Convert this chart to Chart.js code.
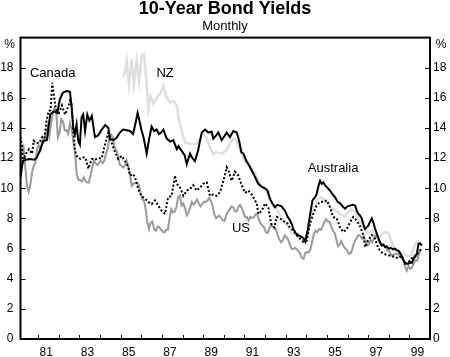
<!DOCTYPE html>
<html>
<head>
<meta charset="utf-8">
<script src="https://cdn.jsdelivr.net/npm/chart.js@4.4.1/dist/chart.umd.min.js"></script>
<style>
  html, body { margin: 0; padding: 0; background: #fff; }
  #wrap { width: 450px; height: 357px; }
</style>
</head>
<body>
<div id="wrap"><canvas id="c" width="450" height="357"></canvas></div>
<script>
// ---------------- DATA ----------------
const ausDates = [1980.14,1980.25,1980.4,1980.6,1980.8,1980.92,1981.08,1981.25,1981.42,1981.58,1981.75,1981.92,1982.05,1982.2,1982.38,1982.54,1982.62,1982.7,1982.78,1982.86,1982.94,1983.02,1983.1,1983.18,1983.27,1983.38,1983.48,1983.6,1983.75,1983.9,1984.08,1984.25,1984.4,1984.48,1984.64,1984.8,1984.96,1985.12,1985.29,1985.45,1985.6,1985.7,1985.82,1985.92,1986.0,1986.12,1986.26,1986.38,1986.5,1986.62,1986.74,1986.85,1986.96,1987.07,1987.23,1987.4,1987.55,1987.72,1987.8,1987.95,1988.1,1988.2,1988.36,1988.48,1988.6,1988.75,1988.93,1989.09,1989.25,1989.41,1989.49,1989.62,1989.73,1989.9,1990.05,1990.14,1990.3,1990.46,1990.63,1990.75,1990.85,1990.95,1991.1,1991.2,1991.35,1991.5,1991.67,1991.84,1992.0,1992.12,1992.24,1992.4,1992.48,1992.6,1992.8,1992.97,1993.1,1993.2,1993.3,1993.37,1993.5,1993.62,1993.75,1993.85,1993.95,1994.08,1994.18,1994.3,1994.42,1994.5,1994.6,1994.67,1994.75,1994.83,1994.91,1995.05,1995.15,1995.28,1995.4,1995.52,1995.64,1995.76,1995.88,1996.0,1996.12,1996.25,1996.37,1996.45,1996.53,1996.6,1996.69,1996.77,1996.85,1996.92,1997.0,1997.1,1997.18,1997.26,1997.34,1997.42,1997.5,1997.58,1997.66,1997.74,1997.82,1997.9,1998.0,1998.1,1998.2,1998.3,1998.38,1998.47,1998.55,1998.63,1998.71,1998.79,1998.87,1998.95,1999.04,1999.12,1999.2,1999.28,1999.36,1999.44,1999.52,1999.6];
const ausValues = [10.7,11.8,11.9,11.95,11.9,12.0,12.5,13.15,13.2,14.9,15.1,15.0,15.9,16.35,16.45,16.4,15.35,14.0,13.6,14.25,13.15,12.9,14.7,14.9,13.8,14.9,14.5,14.8,13.4,13.5,13.9,14.2,14.0,13.3,13.2,13.35,13.7,13.9,13.85,13.8,13.6,14.2,15.0,14.4,13.9,13.3,12.3,13.3,14.1,13.8,13.9,13.6,13.7,13.9,13.3,13.1,13.2,12.6,12.8,12.5,12.2,11.6,12.3,12.0,11.8,12.5,13.7,13.9,13.7,13.75,13.3,13.5,13.7,13.2,13.5,13.7,13.4,13.8,13.7,13.1,12.4,12.3,11.8,11.6,11.2,10.8,10.3,10.1,10.0,9.85,9.3,8.9,8.75,8.9,8.8,8.5,8.1,7.9,7.6,7.3,7.0,6.9,6.8,6.7,6.45,7.3,8.2,9.2,9.4,9.6,10.2,10.5,10.3,10.4,10.2,10.0,9.85,9.6,9.4,9.1,9.0,8.8,8.65,8.8,8.85,8.9,8.85,8.5,8.3,8.2,8.0,7.6,7.3,7.4,7.5,7.8,8.0,7.7,7.3,7.0,6.7,6.4,6.2,6.25,6.1,6.15,6.0,6.05,5.95,6.0,5.9,5.85,5.7,5.5,5.2,5.05,5.0,5.0,5.1,5.05,5.3,5.55,5.6,6.3,6.35,6.2];

const canDates = [1980.14,1980.2,1980.27,1980.4,1980.55,1980.7,1980.78,1980.9,1981.05,1981.2,1981.3,1981.4,1981.5,1981.6,1981.68,1981.76,1981.85,1982.0,1982.15,1982.3,1982.45,1982.54,1982.62,1982.7,1982.78,1982.9,1983.05,1983.2,1983.3,1983.43,1983.6,1983.75,1983.9,1984.08,1984.2,1984.3,1984.4,1984.5,1984.56,1984.72,1984.88,1985.05,1985.12,1985.3,1985.37,1985.45,1985.6,1985.7,1985.85,1986.0,1986.18,1986.34,1986.5,1986.66,1986.82,1986.99,1987.15,1987.3,1987.47,1987.63,1987.72,1987.88,1988.04,1988.2,1988.36,1988.52,1988.68,1988.85,1989.0,1989.17,1989.33,1989.49,1989.65,1989.82,1989.98,1990.14,1990.22,1990.38,1990.54,1990.7,1990.87,1991.03,1991.19,1991.35,1991.51,1991.6,1991.67,1991.84,1992.0,1992.16,1992.3,1992.45,1992.57,1992.73,1992.9,1993.05,1993.2,1993.37,1993.53,1993.7,1993.86,1994.02,1994.18,1994.34,1994.5,1994.67,1994.83,1995.0,1995.15,1995.3,1995.48,1995.64,1995.8,1995.96,1996.12,1996.28,1996.45,1996.6,1996.77,1996.85,1997.0,1997.18,1997.34,1997.5,1997.66,1997.85,1998.0,1998.15,1998.3,1998.47,1998.63,1998.79,1998.95,1999.12,1999.28,1999.44,1999.6];
const canValues = [13.4,12.9,11.8,12.3,12.6,12.3,13.15,13.0,13.0,13.4,13.3,14.5,15.1,15.2,17.0,16.2,15.25,15.0,15.5,14.9,15.4,15.8,15.6,14.0,12.5,12.05,11.95,12.05,12.0,11.3,11.95,11.9,12.0,12.0,12.7,13.2,13.7,13.2,13.05,12.4,11.95,12.15,12.0,11.6,11.4,10.85,10.95,10.7,9.95,9.5,9.3,9.1,8.95,9.2,8.85,8.5,8.3,9.4,9.5,10.85,10.3,10.05,9.5,9.85,9.95,10.2,9.85,10.05,10.3,10.4,9.5,9.6,9.5,9.75,10.5,11.4,11.2,10.5,11.1,10.85,10.2,9.7,9.85,9.6,9.2,9.0,8.3,8.5,9.0,8.7,7.65,7.4,8.1,8.0,7.8,7.75,7.4,7.2,6.9,6.65,6.45,6.5,7.65,8.3,8.85,9.1,9.1,9.2,8.75,8.1,8.0,7.4,7.1,7.3,7.75,8.1,7.85,7.5,6.9,6.1,6.55,6.9,6.65,6.0,5.75,5.6,5.55,5.5,5.45,5.35,5.55,5.0,5.1,5.35,5.45,5.75,6.0];

const nzDates = [1985.13,1985.2,1985.29,1985.4,1985.53,1985.64,1985.77,1985.89,1986.02,1986.13,1986.26,1986.34,1986.45,1986.58,1986.74,1986.9,1987.07,1987.23,1987.39,1987.55,1987.72,1987.8,1987.96,1988.12,1988.36,1988.68,1988.85,1989.0,1989.17,1989.33,1989.49,1989.65,1989.9,1990.1,1990.3,1990.46,1990.6,1990.79,1990.95,1991.1,1991.43,1991.76,1992.08,1992.3,1992.5,1992.7,1992.9,1993.1,1993.3,1993.5,1993.7,1993.9,1994.05,1994.18,1994.3,1994.5,1994.67,1994.85,1995.0,1995.2,1995.45,1995.65,1995.85,1996.0,1996.2,1996.37,1996.5,1996.7,1996.85,1997.0,1997.2,1997.35,1997.5,1997.7,1997.85,1998.0,1998.1,1998.3,1998.5,1998.7,1998.9,1999.1,1999.3,1999.5];
const nzValues = [17.4,17.65,18.45,16.9,18.55,16.9,18.45,17.1,18.8,18.9,16.9,15.25,16.1,15.6,16.0,16.25,16.8,16.0,15.7,15.8,15.5,14.7,13.8,13.05,12.95,12.95,13.35,13.6,13.35,12.7,12.25,12.4,12.3,12.5,12.95,13.3,13.2,12.5,12.0,11.6,11.2,10.3,9.75,9.0,8.8,8.3,7.9,7.5,7.0,6.9,6.7,6.65,7.0,8.1,8.3,9.2,9.4,9.3,9.0,8.7,8.5,8.3,8.1,8.4,8.6,8.4,8.0,7.6,7.2,7.0,7.2,6.9,6.7,7.0,7.1,7.0,6.6,5.9,5.8,5.7,5.5,5.6,6.35,6.45];

// US: monthly, first observation January 1980
const usStart = 1980.12;
const usValues = [
 10.80,12.41,12.75,11.47,10.18,9.78,10.25,11.10,11.51,11.75,12.68,12.84,
 12.57,13.19,13.12,13.68,14.10,13.47,14.28,14.94,15.32,15.15,13.39,13.72,
 14.59,14.43,13.86,13.87,13.62,14.30,13.95,13.06,12.34,10.91,10.55,10.54,
 10.46,10.72,10.51,10.40,10.38,10.85,11.38,11.85,11.65,11.54,11.69,11.83,
 11.67,11.84,12.32,12.63,13.41,13.56,13.36,12.72,12.52,12.16,11.57,11.50,
 11.38,11.51,11.86,11.43,10.85,10.16,10.31,10.33,10.37,10.24,9.78,9.26,
 9.19,8.70,7.78,7.30,7.71,7.80,7.30,7.17,7.45,7.43,7.25,7.11,
 7.08,7.25,7.25,8.02,8.61,8.40,8.45,8.76,9.42,9.52,8.86,8.99,
 8.67,8.21,8.37,8.72,9.09,8.92,9.06,9.26,8.98,8.80,8.96,9.11,
 9.09,9.17,9.36,9.18,8.86,8.28,8.02,8.11,8.19,8.01,7.87,7.84,
 8.21,8.47,8.59,8.79,8.76,8.48,8.47,8.75,8.89,8.72,8.39,8.08,
 8.09,7.85,8.11,8.04,8.07,8.28,8.27,7.90,7.65,7.53,7.42,7.09,
 7.03,7.34,7.54,7.48,7.39,7.26,6.84,6.59,6.42,6.59,6.87,6.77,
 6.60,6.26,5.98,5.97,6.04,5.96,5.81,5.68,5.36,5.33,5.72,5.77,
 5.75,5.97,6.48,6.97,7.18,7.10,7.30,7.24,7.46,7.74,7.96,7.81,
 7.78,7.47,7.20,7.06,6.63,6.17,6.28,6.49,6.20,6.04,5.93,5.71,
 5.65,5.81,6.27,6.51,6.74,6.91,6.87,6.64,6.83,6.53,6.20,6.30,
 6.58,6.42,6.69,6.89,6.71,6.49,6.22,6.30,6.21,6.03,5.88,5.81,
 5.54,5.57,5.65,5.64,5.65,5.50,5.46,5.34,4.81,4.53,4.83,4.65,
 4.72,5.00,5.23,5.18,5.54,5.90
];

const yTicks = [0,2,4,6,8,10,12,14,16,18];
const xTickYears = [1981,1982,1983,1984,1985,1986,1987,1988,1989,1990,1991,1992,1993,1994,1995,1996,1997,1998,1999];
const xLabelYears = [1981,1983,1985,1987,1989,1991,1993,1995,1997,1999];
const seriesLabels = [
  {text:'Canada', x:1981.7, y:17.65},
  {text:'NZ', x:1987.15, y:17.65},
  {text:'Australia', x:1995.3, y:11.3},
  {text:'US', x:1990.83, y:7.34}
];

// ---------------- CHART ----------------
const FONT = "'Liberation Sans', Arial, Helvetica, sans-serif";
const pts = (d, v) => d.map((x, i) => ({x: x, y: v[i]}));
const usPts = usValues.map((v, i) => ({x: usStart + i / 12, y: v}));

const decor = {
  id: 'decor',
  afterDatasetsDraw(chart) {
    const {ctx, chartArea: a, scales} = chart;
    ctx.save();
    ctx.strokeStyle = '#000';
    ctx.lineWidth = 1;
    ctx.beginPath();
    xTickYears.forEach(yr => {
      const px = Math.round(scales.x.getPixelForValue(yr)) + 0.5;
      ctx.moveTo(px, a.bottom); ctx.lineTo(px, a.bottom - 4);
    });
    yTicks.forEach(v => {
      if (v === 0) return;
      const py = Math.round(scales.y.getPixelForValue(v)) + 0.5;
      ctx.moveTo(a.left, py); ctx.lineTo(a.left + 5, py);
      ctx.moveTo(a.right - 5, py); ctx.lineTo(a.right, py);
    });
    ctx.stroke();
    ctx.lineWidth = 2;
    ctx.strokeRect(a.left, a.top, a.right - a.left, a.bottom - a.top);
    ctx.fillStyle = '#000';
    ctx.textAlign = 'center';
    ctx.textBaseline = 'middle';
    ctx.font = '13px ' + FONT;
    seriesLabels.forEach(l => {
      ctx.fillText(l.text, scales.x.getPixelForValue(l.x), scales.y.getPixelForValue(l.y));
    });
    ctx.font = '12px ' + FONT;
    ctx.fillText('%', a.left - 11, a.top + 7);
    ctx.fillText('%', a.right + 11, a.top + 7);
    ctx.restore();
  }
};

new Chart(document.getElementById('c'), {
  type: 'line',
  data: {
    datasets: [
      {label:'Australia', data: pts(ausDates, ausValues), borderColor:'#000000', borderWidth:2, clip:0},
      {label:'Canada', data: pts(canDates, canValues), borderColor:'#000000', borderWidth:2, borderDash:[2,2], clip:0},
      {label:'US', data: usPts, borderColor:'#9a9a9a', borderWidth:2, clip:0},
      {label:'NZ', data: pts(nzDates, nzValues), borderColor:'#dedede', borderWidth:2.5, clip:0}
    ]
  },
  options: {
    responsive: false,
    animation: false,
    devicePixelRatio: 1,
    layout: {padding: 0},
    elements: {point: {radius: 0}, line: {tension: 0, borderJoinStyle: 'miter'}},
    plugins: {
      legend: {display: false},
      tooltip: {enabled: false},
      title: {display: true, text: '10-Year Bond Yields', color:'#000',
              font: {family: FONT, size: 18, weight: 'bold', lineHeight: 1},
              padding: {top: 0, bottom: 1}},
      subtitle: {display: true, text: 'Monthly', color:'#000',
              font: {family: FONT, size: 13, lineHeight: 1.2},
              padding: {top: 0, bottom: 3}}
    },
    scales: {
      x: {
        type: 'linear', min: 1980.14, max: 2000.0,
        afterBuildTicks: s => { s.ticks = xTickYears.map(v => ({value: v})); },
        afterFit: s => { s.height = 18; },
        grid: {display: false, drawTicks: false}, border: {display: false},
        ticks: {autoSkip: false, maxRotation: 0, labelOffset: 8, padding: 6, color:'#000',
                font: {family: FONT, size: 12},
                callback: v => xLabelYears.includes(v) ? String(v).slice(2) : ''}
      },
      y: {
        position: 'left', min: 0, max: 20,
        afterBuildTicks: s => { s.ticks = yTicks.map(v => ({value: v})); },
        afterFit: s => { s.width = 20.5; },
        grid: {display: false, drawTicks: false}, border: {display: false},
        ticks: {padding: 7, color:'#000', font: {family: FONT, size: 12}}
      },
      y2: {
        position: 'right', min: 0, max: 20,
        afterBuildTicks: s => { s.ticks = yTicks.map(v => ({value: v})); },
        afterFit: s => { s.width = 20; },
        grid: {display: false, drawTicks: false}, border: {display: false},
        ticks: {padding: 3, color:'#000', font: {family: FONT, size: 12}}
      }
    }
  },
  plugins: [decor]
});
</script>
</body>
</html>
